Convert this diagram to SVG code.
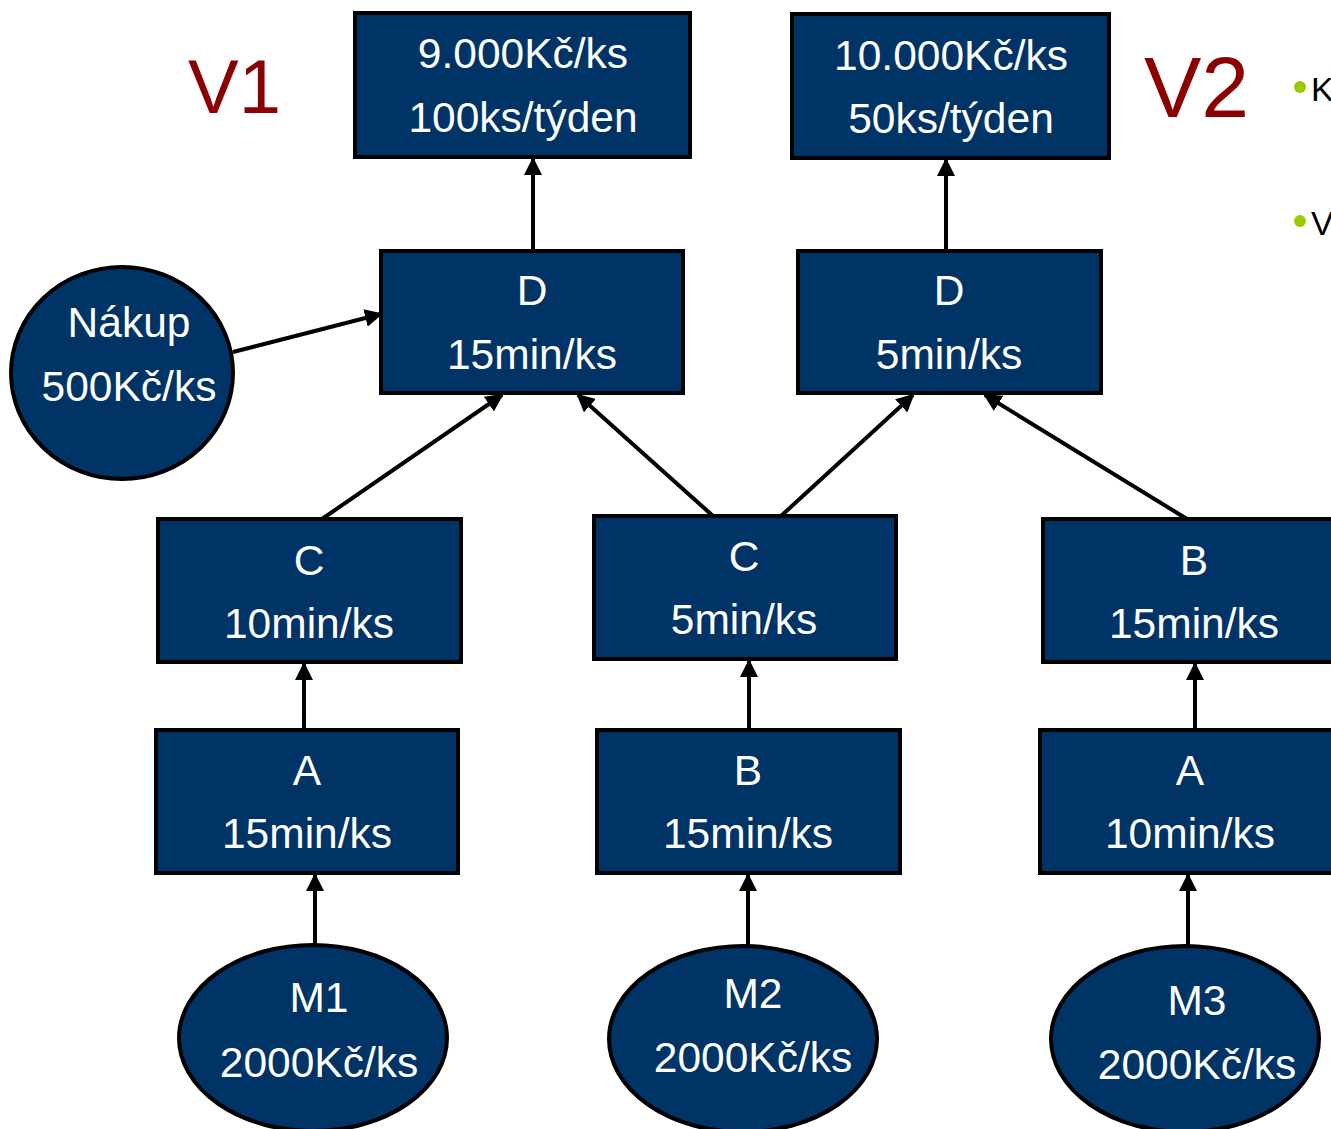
<svg xmlns="http://www.w3.org/2000/svg" width="1331" height="1129" viewBox="0 0 1331 1129">
  <style>
    .box { fill: #003366; stroke: #000; stroke-width: 4; }
    .lbl { font-family: "Liberation Sans", Arial, sans-serif; font-size: 42.5px; fill: #fff; text-anchor: middle; }
    .ver { font-family: "Liberation Sans", Arial, sans-serif; fill: #8B0000; }
    .side { font-family: "Liberation Sans", Arial, sans-serif; font-size: 34px; fill: #000; }
    .conn line { stroke: #000; stroke-width: 4; marker-end: url(#head); }
  </style>
  <defs>
    <marker id="head" markerUnits="userSpaceOnUse" markerWidth="18" markerHeight="18" viewBox="0 0 18 18" refX="16" refY="9" orient="auto">
      <path d="M0,0 L18,9 L0,18 z" fill="#000"/>
    </marker>
  </defs>
  <rect width="1331" height="1129" fill="#fff"/>

  <!-- version labels -->
  <text class="ver" x="188" y="113" font-size="76">V1</text>
  <text class="ver" x="1144" y="117" font-size="86">V2</text>

  <!-- side bullets -->
  <circle cx="1300" cy="87" r="6" fill="#99CC00"/>
  <text class="side" x="1311" y="101">K</text>
  <circle cx="1300" cy="221" r="6" fill="#99CC00"/>
  <text class="side" x="1311" y="235">V</text>

  <!-- connectors -->
  <g class="conn">
    <line x1="533" y1="250" x2="533" y2="159"/>
    <line x1="946" y1="250" x2="946" y2="160"/>
    <line x1="233" y1="352" x2="381" y2="314"/>
    <line x1="322" y1="519" x2="502" y2="395"/>
    <line x1="713" y1="516" x2="578" y2="395"/>
    <line x1="781" y1="516" x2="913" y2="395"/>
    <line x1="1187" y1="519" x2="985" y2="395"/>
    <line x1="304" y1="730" x2="304" y2="664"/>
    <line x1="749" y1="730" x2="749" y2="661"/>
    <line x1="1195" y1="730" x2="1195" y2="664"/>
    <line x1="315" y1="945" x2="315" y2="875"/>
    <line x1="748" y1="946" x2="748" y2="875"/>
    <line x1="1188" y1="946" x2="1188" y2="875"/>
  </g>

  <!-- products -->
  <g id="v1">
    <rect class="box" x="355" y="13" width="335" height="144"/>
    <text class="lbl" x="523" y="68">9.000Kč/ks</text>
    <text class="lbl" x="523" y="132">100ks/týden</text>
  </g>
  <g id="v2">
    <rect class="box" x="792" y="14" width="317" height="144"/>
    <text class="lbl" x="951" y="70">10.000Kč/ks</text>
    <text class="lbl" x="951" y="133">50ks/týden</text>
  </g>

  <!-- operation D -->
  <g id="d1">
    <rect class="box" x="381" y="251" width="302" height="142"/>
    <text class="lbl" x="532" y="305">D</text>
    <text class="lbl" x="532" y="369">15min/ks</text>
  </g>
  <g id="d2">
    <rect class="box" x="798" y="251" width="303" height="142"/>
    <text class="lbl" x="949" y="305">D</text>
    <text class="lbl" x="949" y="369">5min/ks</text>
  </g>

  <!-- purchased part -->
  <g id="nakup">
    <ellipse class="box" cx="122" cy="373" rx="111" ry="106"/>
    <text class="lbl" x="129" y="337">Nákup</text>
    <text class="lbl" x="129" y="401">500Kč/ks</text>
  </g>

  <!-- middle tier -->
  <g id="c1">
    <rect class="box" x="158" y="519" width="303" height="143"/>
    <text class="lbl" x="309" y="575">C</text>
    <text class="lbl" x="309" y="638">10min/ks</text>
  </g>
  <g id="c2">
    <rect class="box" x="594" y="516" width="302" height="143"/>
    <text class="lbl" x="744" y="571">C</text>
    <text class="lbl" x="744" y="634">5min/ks</text>
  </g>
  <g id="b2">
    <rect class="box" x="1043" y="519" width="302" height="143"/>
    <text class="lbl" x="1194" y="575">B</text>
    <text class="lbl" x="1194" y="638">15min/ks</text>
  </g>

  <!-- lower tier -->
  <g id="a1">
    <rect class="box" x="156" y="730" width="302" height="143"/>
    <text class="lbl" x="307" y="785">A</text>
    <text class="lbl" x="307" y="848">15min/ks</text>
  </g>
  <g id="b1">
    <rect class="box" x="597" y="730" width="303" height="143"/>
    <text class="lbl" x="748" y="785">B</text>
    <text class="lbl" x="748" y="848">15min/ks</text>
  </g>
  <g id="a2">
    <rect class="box" x="1040" y="730" width="302" height="143"/>
    <text class="lbl" x="1190" y="785">A</text>
    <text class="lbl" x="1190" y="848">10min/ks</text>
  </g>

  <!-- materials -->
  <g id="m1">
    <ellipse class="box" cx="313" cy="1038" rx="134" ry="93"/>
    <text class="lbl" x="319" y="1012">M1</text>
    <text class="lbl" x="319" y="1077">2000Kč/ks</text>
  </g>
  <g id="m2">
    <ellipse class="box" cx="743" cy="1039" rx="134" ry="93"/>
    <text class="lbl" x="753" y="1008">M2</text>
    <text class="lbl" x="753" y="1072">2000Kč/ks</text>
  </g>
  <g id="m3">
    <ellipse class="box" cx="1185" cy="1039" rx="134" ry="93"/>
    <text class="lbl" x="1197" y="1015">M3</text>
    <text class="lbl" x="1197" y="1079">2000Kč/ks</text>
  </g>
</svg>
